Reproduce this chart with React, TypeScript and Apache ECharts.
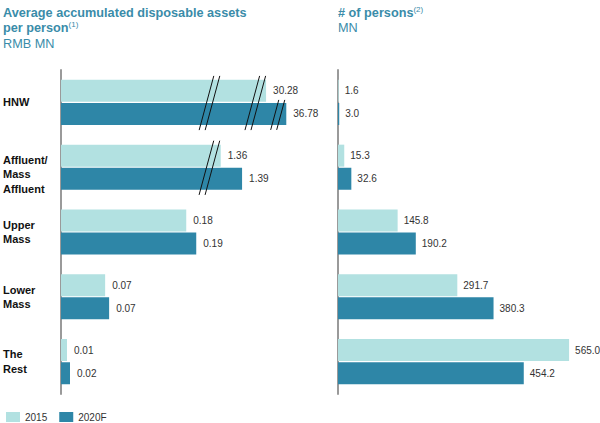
import React, { useEffect, useRef } from "react";
import * as echarts from "echarts";

const categories = ["HNW", "Affluent/\nMass\nAffluent", "Upper\nMass", "Lower\nMass", "The\nRest"];
const seriesNames = ["2015", "2020F"];

// Average accumulated disposable assets per person (RMB MN) – printed values
const assetLabels2015 = ["30.28", "1.36", "0.18", "0.07", "0.01"];
const assetLabels2020 = ["36.78", "1.39", "0.19", "0.07", "0.02"];
// bar lengths as drawn on the broken axis
const assetBars2015 = [0.294, 0.229, 0.1796, 0.0633, 0.0086];
const assetBars2020 = [0.323, 0.2596, 0.1939, 0.069, 0.0129];
// axis-break marks (category, axis value, which bars they cross)
const breakCats = [0, 0, 0, 1];
const breakAt = [0.2131, 0.2788, 0.3111, 0.213];
const breakSpan = ["both", "both", "2020F", "both"];

// # of persons (MN)
const persons2015 = [1.6, 15.3, 145.8, 291.7, 565.0];
const persons2020 = [3.0, 32.6, 190.2, 380.3, 454.2];

const LIGHT = "#b2e1e1";
const DARK = "#2e86a7";
const TITLE = "#3a8ca9";
const FONT = "'Liberation Sans', Arial, Helvetica, sans-serif";

export default function App() {
  const ref = useRef<HTMLDivElement>(null);

  useEffect(() => {
    if (!ref.current) return;
    const chart = echarts.init(ref.current, undefined, { renderer: "svg" });

    const labelStyle = {
      show: true,
      position: "right" as const,
      distance: 7,
      fontSize: 10,
      color: "#333",
      fontFamily: FONT,
    };
    const axisLine = { show: true, lineStyle: { color: "#9a9a9a", width: 2 } };

    chart.setOption({
      animation: false,
      textStyle: { fontFamily: FONT },
      grid: [
        { left: 60, top: 70, width: 280, height: 324 },
        { left: 338, top: 70, width: 245.4, height: 324 },
      ],
      xAxis: [
        { type: "value", gridIndex: 0, min: 0, max: 0.4, show: false },
        { type: "value", gridIndex: 1, min: 0, max: 600, show: false },
      ],
      yAxis: [
        {
          type: "category",
          gridIndex: 0,
          data: categories,
          inverse: true,
          axisLine,
          axisTick: { show: false },
          axisLabel: {
            align: "left",
            margin: 58,
            fontSize: 11,
            fontWeight: "bold",
            color: "#111",
            lineHeight: 14.5,
            fontFamily: FONT,
            formatter: (v: string) => (v.split("\n").length === 3 ? "\n" + v : v),
          },
        },
        {
          type: "category",
          gridIndex: 1,
          data: categories,
          inverse: true,
          axisLine,
          axisTick: { show: false },
          axisLabel: { show: false },
        },
      ],
      legend: {
        data: seriesNames,
        left: 6,
        top: 412,
        padding: 0,
        itemWidth: 14,
        itemHeight: 10,
        itemGap: 12,
        icon: "rect",
        textStyle: { fontSize: 10, color: "#333", fontFamily: FONT },
      },
      series: [
        {
          name: seriesNames[0],
          type: "bar",
          xAxisIndex: 0,
          yAxisIndex: 0,
          data: assetBars2015,
          barWidth: 22,
          barGap: "5%",
          itemStyle: { color: LIGHT },
          label: { ...labelStyle, formatter: (p: any) => assetLabels2015[p.dataIndex] },
        },
        {
          name: seriesNames[1],
          type: "bar",
          xAxisIndex: 0,
          yAxisIndex: 0,
          data: assetBars2020,
          barWidth: 22,
          barGap: "5%",
          itemStyle: { color: DARK },
          label: { ...labelStyle, formatter: (p: any) => assetLabels2020[p.dataIndex] },
        },
        {
          name: seriesNames[0],
          type: "bar",
          xAxisIndex: 1,
          yAxisIndex: 1,
          data: persons2015,
          barWidth: 22,
          barGap: "5%",
          itemStyle: { color: LIGHT },
          label: { ...labelStyle, distance: 6, formatter: (p: any) => Number(p.value).toFixed(1) },
        },
        {
          name: seriesNames[1],
          type: "bar",
          xAxisIndex: 1,
          yAxisIndex: 1,
          data: persons2020,
          barWidth: 22,
          barGap: "5%",
          itemStyle: { color: DARK },
          label: { ...labelStyle, distance: 6, formatter: (p: any) => Number(p.value).toFixed(1) },
        },
      ],
    });

    const rich = {
      b: { fontSize: 12.7, fontWeight: "bold", fill: TITLE, fontFamily: FONT, lineHeight: 15.5 },
      s: { fontSize: 8, fill: TITLE, fontFamily: FONT, verticalAlign: "top", lineHeight: 15.5 },
      n: { fontSize: 12.7, fill: TITLE, fontFamily: FONT, lineHeight: 15.5 },
    };

    const graphics: any[] = [
      {
        type: "text",
        x: 3,
        y: 5,
        z: 100,
        style: {
          text: "{b|Average accumulated disposable assets}\n{b|per person}{s|(1)}\n{n|RMB MN}",
          rich,
        },
      },
      {
        type: "text",
        x: 338,
        y: 5,
        z: 100,
        style: {
          text: "{b|# of persons}{s|(2)}\n{n|MN}",
          rich,
        },
      },
    ];

    const slope = 0.27;
    breakCats.forEach((cat, i) => {
      const p = chart.convertToPixel({ gridIndex: 0 } as any, [breakAt[i], cat]) as number[];
      if (!p) return;
      const cx = p[0];
      let cy = p[1];
      let top = cy - 26.5;
      let bottom = cy + 27.7;
      if (breakSpan[i] === "2020F") {
        cy = cy + 11.5;
        top = cy - 14;
        bottom = cy + 16;
      }
      [-3, 3].forEach((o) => {
        graphics.push({
          type: "line",
          z: 100,
          shape: {
            x1: cx + o - slope * (bottom - cy),
            y1: bottom,
            x2: cx + o + slope * (cy - top),
            y2: top,
          },
          style: { stroke: "#111", lineWidth: 1 },
        });
      });
    });

    chart.setOption({ graphic: graphics });

    return () => chart.dispose();
  }, []);

  return (
    <div
      ref={ref}
      style={{ position: "fixed", left: 0, top: 0, width: 600, height: 423, background: "#fff" }}
    />
  );
}
